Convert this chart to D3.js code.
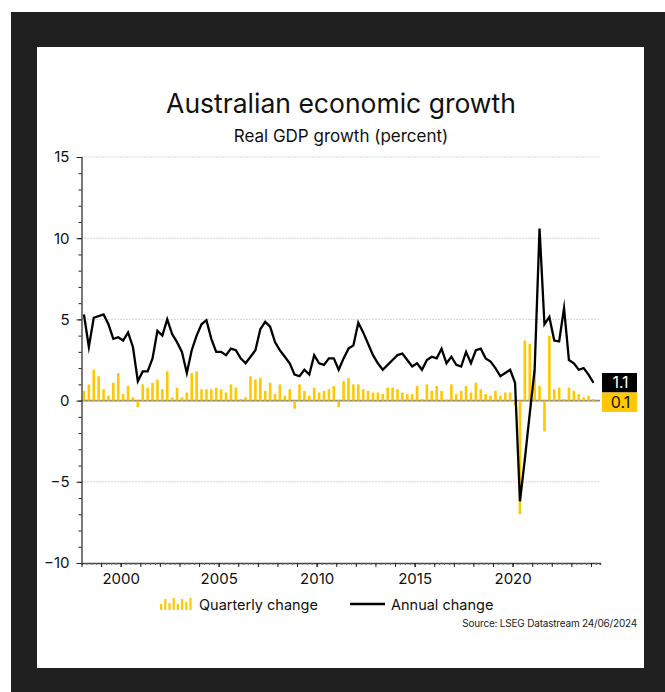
<!DOCTYPE html>
<html>
<head>
<meta charset="utf-8">
<script src="https://cdn.jsdelivr.net/npm/d3@7"></script>
<style>
  html, body { margin: 0; padding: 0; background: #fff; }
  svg { display: block; font-family: Inter, Roboto, "Liberation Sans", sans-serif; }
</style>
</head>
<body>
<svg id="chart" width="665" height="692"></svg>
<script>
// Real GDP growth, percent, quarterly from 1998 Q1 to 2024 Q1
const firstYear = 1998;

const quarterlyChange = [
  0.6, 1.0, 1.9, 1.5, 0.7, 0.3, 1.1, 1.7, 0.4, 0.9,
  0.2, -0.4, 1.0, 0.8, 1.1, 1.3, 0.7, 1.8, 0.2, 0.8,
  0.2, 0.5, 1.7, 1.8, 0.7, 0.7, 0.7, 0.8, 0.7, 0.5,
  1.0, 0.8, 0.1, 0.2, 1.5, 1.3, 1.4, 0.6, 1.1, 0.4,
  1.0, 0.3, 0.7, -0.5, 1.0, 0.6, 0.3, 0.8, 0.5, 0.6,
  0.7, 0.9, -0.4, 1.2, 1.4, 1.0, 1.0, 0.7, 0.6, 0.5,
  0.5, 0.4, 0.8, 0.8, 0.7, 0.5, 0.4, 0.4, 0.9, 0.1,
  1.0, 0.6, 0.9, 0.6, 0.05, 1.0, 0.4, 0.6, 0.9, 0.5,
  1.1, 0.7, 0.4, 0.3, 0.6, 0.3, 0.5, 0.5, -0.3, -7.0,
  3.7, 3.5, 1.9, 0.9, -1.9, 4.0, 0.7, 0.8, 0.1, 0.8,
  0.6, 0.4, 0.2, 0.3, 0.1
];

const annualChange = [
  5.3, 3.3, 5.1, 5.2, 5.3, 4.7, 3.8, 3.9, 3.7, 4.2,
  3.3, 1.2, 1.8, 1.8, 2.6, 4.3, 4.0, 5.0, 4.1, 3.6,
  3.0, 1.7, 3.1, 4.0, 4.7, 4.95, 3.8, 3.0, 3.0, 2.8,
  3.2, 3.1, 2.6, 2.3, 2.7, 3.1, 4.4, 4.85, 4.55, 3.6,
  3.1, 2.7, 2.3, 1.6, 1.5, 1.9, 1.6, 2.8, 2.3, 2.2,
  2.6, 2.6, 1.9, 2.6, 3.2, 3.4, 4.8, 4.2, 3.5, 2.8,
  2.3, 1.9, 2.2, 2.5, 2.8, 2.9, 2.5, 2.1, 2.3, 1.9,
  2.5, 2.7, 2.6, 3.2, 2.3, 2.7, 2.2, 2.1, 3.0, 2.3,
  3.1, 3.2, 2.6, 2.4, 2.0, 1.5, 1.7, 1.9, 1.1, -6.2,
  -3.6, -0.8, 1.9, 10.6, 4.7, 5.15, 3.7, 3.65, 5.7, 2.5,
  2.3, 1.9, 2.0, 1.6, 1.1
];

const yMajorTicks = [-10, -5, 0, 5, 10, 15];
const yGridLines = [-5, 5, 10, 15];
const xYearLabels = [2000, 2005, 2010, 2015, 2020];

const titleText = "Australian economic growth";
const subtitleText = "Real GDP growth (percent)";
const sourceText = "Source: LSEG Datastream 24/06/2024";
const legendQuarterly = "Quarterly change";
const legendAnnual = "Annual change";

const barColor = "#FFC800";
const lineColor = "#000000";
const textColor = "#111";
const fontFamily = "Inter, Roboto, sans-serif";

// quarter midpoint in decimal years
const quarterTime = i => firstYear + i / 4 + 0.125;

const svg = d3.select("#chart");

// frame
svg.append("rect").attr("x", 11).attr("y", 12).attr("width", 654).attr("height", 680).attr("fill", "#202020");
svg.append("rect").attr("x", 37).attr("y", 47).attr("width", 607).attr("height", 621).attr("fill", "#ffffff");

// titles
svg.append("text").attr("x", 341).attr("y", 113).attr("text-anchor", "middle")
  .attr("font-size", 26.5).attr("fill", textColor).text(titleText);
svg.append("text").attr("x", 341).attr("y", 142).attr("text-anchor", "middle")
  .attr("font-size", 17).attr("fill", textColor).text(subtitleText);

// scales
const x = d3.scaleLinear().domain([1998, 2024.46]).range([81.5, 600]);
const y = d3.scaleLinear().domain([-10, 15]).range([563, 157]);

// dotted grid lines
svg.append("g").selectAll("line").data(yGridLines).join("line")
  .attr("x1", x(1998)).attr("x2", x(2024.46))
  .attr("y1", d => y(d)).attr("y2", d => y(d))
  .attr("stroke", "#aaa").attr("stroke-width", 1).attr("stroke-dasharray", "1,2");

// zero line
svg.append("line").attr("x1", x(1998)).attr("x2", x(2024.46))
  .attr("y1", y(0)).attr("y2", y(0))
  .attr("stroke", "#8a8a8a").attr("stroke-width", 1.6);

// quarterly bars
const barW = 2.6;
svg.append("g").selectAll("rect").data(quarterlyChange).join("rect")
  .attr("x", (d, i) => x(quarterTime(i)) - barW / 2)
  .attr("width", barW)
  .attr("y", d => y(Math.max(0, d)))
  .attr("height", d => Math.abs(y(d) - y(0)))
  .attr("fill", barColor);

// annual change line
const line = d3.line().x((d, i) => x(quarterTime(i))).y(d => y(d));
svg.append("path").datum(annualChange)
  .attr("d", line).attr("fill", "none")
  .attr("stroke", lineColor).attr("stroke-width", 2.3)
  .attr("stroke-linejoin", "miter").attr("stroke-miterlimit", 10);

// y axis: minor ticks every unit, labelled majors every 5
const yMinor = d3.range(-10, 16, 1);
svg.append("g").attr("transform", `translate(${x(1998)},0)`)
  .call(d3.axisLeft(y).tickValues(yMinor).tickSize(3).tickFormat(""))
  .call(g => g.select(".domain").attr("stroke", "#222").attr("stroke-width", 1.2))
  .call(g => g.selectAll(".tick line").attr("stroke", "#222"));
svg.append("g").attr("transform", `translate(${x(1998)},0)`)
  .call(d3.axisLeft(y).tickValues(yMajorTicks).tickSize(5).tickPadding(7).tickFormat(d3.format("d")))
  .call(g => g.select(".domain").remove())
  .call(g => g.selectAll(".tick line").attr("stroke", "#222"))
  .call(g => g.selectAll(".tick text").attr("font-size", 15).attr("fill", textColor)
    .attr("font-family", fontFamily));

// x axis: quarterly hatch, yearly ticks, labels every 5 years
const quarterTicks = d3.range(1998, 2024.46, 0.25);
const yearTicks = d3.range(1998, 2025, 1);
svg.append("g").attr("transform", `translate(0,${y(-10)})`)
  .call(d3.axisBottom(x).tickValues(quarterTicks).tickSize(2).tickFormat(""))
  .call(g => g.select(".domain").attr("stroke", "#444").attr("stroke-width", 1.4))
  .call(g => g.selectAll(".tick line").attr("stroke", "#666"));
svg.append("g").attr("transform", `translate(0,${y(-10)})`)
  .call(d3.axisBottom(x).tickValues(yearTicks).tickSize(4).tickFormat(""))
  .call(g => g.select(".domain").remove())
  .call(g => g.selectAll(".tick line").attr("stroke", "#222"));
svg.append("g").attr("transform", `translate(0,${y(-10)})`)
  .call(d3.axisBottom(x).tickValues(xYearLabels).tickSize(4).tickPadding(6).tickFormat(d3.format("d")))
  .call(g => g.select(".domain").remove())
  .call(g => g.selectAll(".tick line").attr("stroke", "#222"))
  .call(g => g.selectAll(".tick text").attr("font-size", 15).attr("fill", textColor)
    .attr("font-family", fontFamily));

// end-of-series value labels
const lastAnnual = annualChange[annualChange.length - 1];
const lastQuarterly = quarterlyChange[quarterlyChange.length - 1];
const boxX = 602, boxW = 35, boxH = 19.5;
const annualBoxY = y(lastAnnual) - boxH / 2;
svg.append("rect").attr("x", boxX).attr("y", annualBoxY).attr("width", boxW).attr("height", boxH).attr("fill", "#000");
svg.append("text").attr("x", boxX + boxW / 2 + 1).attr("y", annualBoxY + 15.5).attr("text-anchor", "middle")
  .attr("font-size", 16).attr("fill", "#fff").text(d3.format(".1f")(lastAnnual));
const qBoxY = annualBoxY + boxH;
svg.append("rect").attr("x", boxX).attr("y", qBoxY).attr("width", boxW).attr("height", boxH).attr("fill", barColor);
svg.append("text").attr("x", boxX + boxW / 2 + 1).attr("y", qBoxY + 15.5).attr("text-anchor", "middle")
  .attr("font-size", 16).attr("fill", textColor).text(d3.format(".1f")(lastQuarterly));

// legend
const legend = svg.append("g");
const iconHeights = [6, 11, 7, 12, 6, 11, 8, 12];
legend.selectAll("rect").data(iconHeights).join("rect")
  .attr("x", (d, i) => 160 + i * 4.2).attr("width", 2.2)
  .attr("y", d => 610 - d).attr("height", d => d)
  .attr("fill", barColor);
legend.append("text").attr("x", 199).attr("y", 610).attr("font-size", 14.5).attr("fill", textColor).text(legendQuarterly);
legend.append("line").attr("x1", 350).attr("x2", 385).attr("y1", 604).attr("y2", 604)
  .attr("stroke", lineColor).attr("stroke-width", 2.3);
legend.append("text").attr("x", 391).attr("y", 610).attr("font-size", 14.5).attr("fill", textColor).text(legendAnnual);

// source note
svg.append("text").attr("x", 637).attr("y", 627).attr("text-anchor", "end")
  .attr("font-size", 10).attr("fill", "#222").attr("letter-spacing", -0.2).text(sourceText);
</script>
</body>
</html>
